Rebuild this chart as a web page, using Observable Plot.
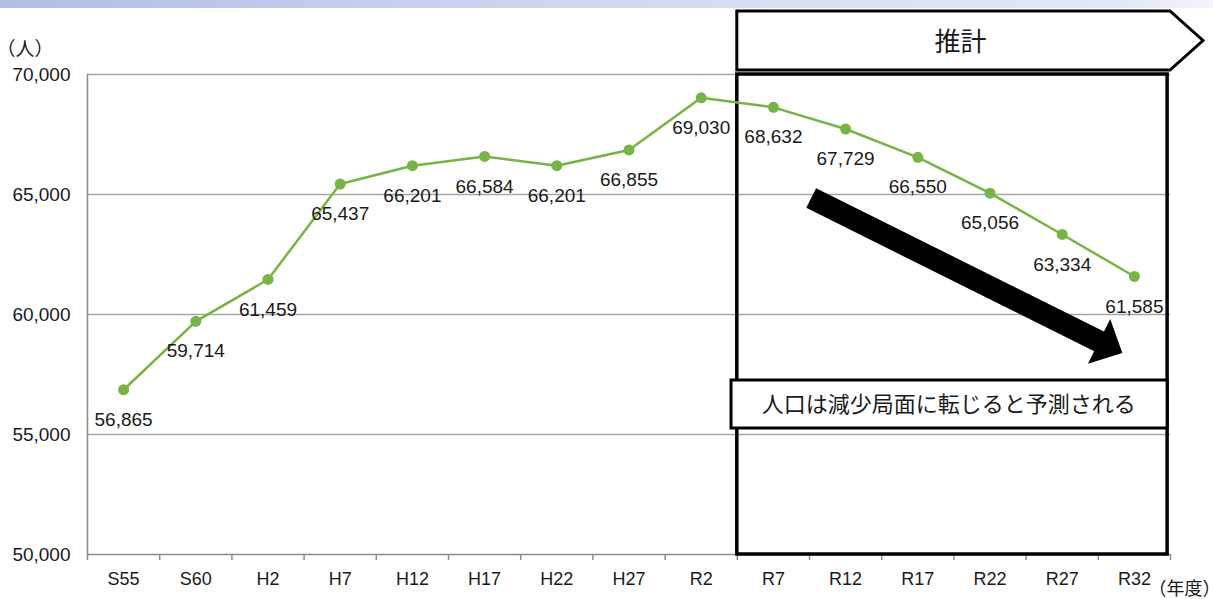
<!DOCTYPE html>
<html><head><meta charset="utf-8">
<script src="https://cdn.jsdelivr.net/npm/d3@7"></script>
<script src="https://cdn.jsdelivr.net/npm/@observablehq/plot@0.6"></script>
<style>
html,body{margin:0;padding:0;background:#fff;overflow:hidden}
#wrap{position:relative;width:1213px;height:599px}
#band{position:absolute;left:0;top:0;width:1213px;height:8px;background:linear-gradient(to right,#b2bce6 0%,#c8d0ee 35%,#d9dff3 65%,#e3e7f6 92%,#f3f5fb 100%)}
svg{display:block}
</style></head><body><div id="wrap"><div id="chart"></div><div id="band"></div></div>
<script>
const categories = ["S55","S60","H2","H7","H12","H17","H22","H27","R2","R7","R12","R17","R22","R27","R32"];
const population = [56865,59714,61459,65437,66201,66584,66201,66855,69030,68632,67729,66550,65056,63334,61585];
const yTicks = [50000,55000,60000,65000,70000];
const forecastLabel = "推計";
const noteText = "人口は減少局面に転じると予測される";
const yUnit = "（人）";
const xUnit = "（年度）";

const green = "#77b445";
const axisGray = "#8c8c8c";
const rows = categories.map((c, i) => ({i, c, v: population[i]}));
const boundaries = d3.range(0, 16).map(k => k - 0.5);
const jp = "'Noto Sans CJK JP', 'Noto Sans', sans-serif";

const chart = Plot.plot({
  width: 1213, height: 599,
  marginLeft: 87, marginRight: 43, marginTop: 74, marginBottom: 45,
  x: {type: "linear", domain: [-0.5, 14.5]},
  y: {domain: [50000, 70000]},
  style: {fontFamily: "'Liberation Sans', Arial, sans-serif", color: "#1a1a1a", background: "transparent", overflow: "visible"},
  marks: [
    Plot.ruleY(yTicks.filter(d => d > 50000), {stroke: "#a6a6a6", strokeWidth: 1.5, strokeOpacity: 1}),
    Plot.axisY(yTicks, {tickSize: 0, tickPadding: 17, tickFormat: d3.format(","), fontSize: 19, label: null}),
    Plot.axisX(boundaries, {tickSize: 6, tickFormat: () => "", stroke: axisGray, strokeWidth: 1.5, label: null}),
    Plot.axisX(d3.range(categories.length), {tickSize: 0, tickPadding: 18, tickFormat: i => categories[i], fontSize: 18, label: null}),
    Plot.ruleX([-0.5], {stroke: axisGray, strokeWidth: 1.5}),
    Plot.ruleY([50000], {stroke: axisGray, strokeWidth: 1.5}),
    Plot.text([yUnit], {frameAnchor: "top-left", dx: -91, dy: -32, textAnchor: "start", fontSize: 19, fontFamily: jp}),
    Plot.text([xUnit], {frameAnchor: "bottom-right", dx: -22, dy: 40, textAnchor: "start", fontSize: 18, fontFamily: jp}),
    Plot.rect([{}], {x1: 8.5, x2: 14.46, y1: 50000, y2: 70000, fill: "none", stroke: "black", strokeWidth: 3.5}),
    Plot.line(rows, {x: "i", y: "v", stroke: green, strokeWidth: 2.5}),
    Plot.dot(rows, {x: "i", y: "v", r: 5.5, fill: green, stroke: null}),
    Plot.text(rows, {x: "i", y: "v", text: d => d3.format(",")(d.v), dy: 30, fontSize: 19}),
    Plot.rect([{}], {x1: 8.42, x2: 14.46, y1: 55250, y2: 57250, fill: "white", stroke: "black", strokeWidth: 3}),
    Plot.text([noteText], {x: 11.43, y: 56250, fontSize: 22, fontFamily: jp}),
    Plot.text([forecastLabel], {x: 11.59, y: 71333, fontSize: 26, fontFamily: jp})
  ]
});
document.getElementById("chart").appendChild(chart);

// annotations positioned through the plot's own scales
const sx = chart.scale("x"), sy = chart.scale("y");
const X = sx.apply ? (v => sx.apply(v)) : d3.scaleLinear(sx.domain, sx.range);
const Y = sy.apply ? (v => sy.apply(v)) : d3.scaleLinear(sy.domain, sy.range);
const svg = d3.select(chart);

// header pentagon "推計"
const L = X(8.5), R = X(14.5), yTop = Y(70000) - 63, yBot = Y(70000) - 4, tipX = R + 33;
svg.append("polygon")
  .attr("points", [[L, yBot], [L, yTop], [R, yTop], [tipX, (yTop + yBot) / 2], [R, yBot]].map(p => p.join(",")).join(" "))
  .attr("fill", "none").attr("stroke", "black").attr("stroke-width", 3).attr("stroke-linejoin", "miter");

// big trend arrow
const S = [X(9.53), Y(64833)], T = [X(13.84), Y(58375)];
const len = Math.hypot(T[0] - S[0], T[1] - S[1]);
const u = [(T[0] - S[0]) / len, (T[1] - S[1]) / len], n = [-u[1], u[0]];
const w = 11, hw = 25, hl = 26;
const B = [T[0] - u[0] * hl, T[1] - u[1] * hl];
const P = (p, k) => [p[0] + n[0] * k, p[1] + n[1] * k];
svg.append("polygon")
  .attr("points", [P(S, w), P(B, w), P(B, hw), T, P(B, -hw), P(B, -w), P(S, -w)].map(p => p.join(",")).join(" "))
  .attr("fill", "black");
</script></body></html>
